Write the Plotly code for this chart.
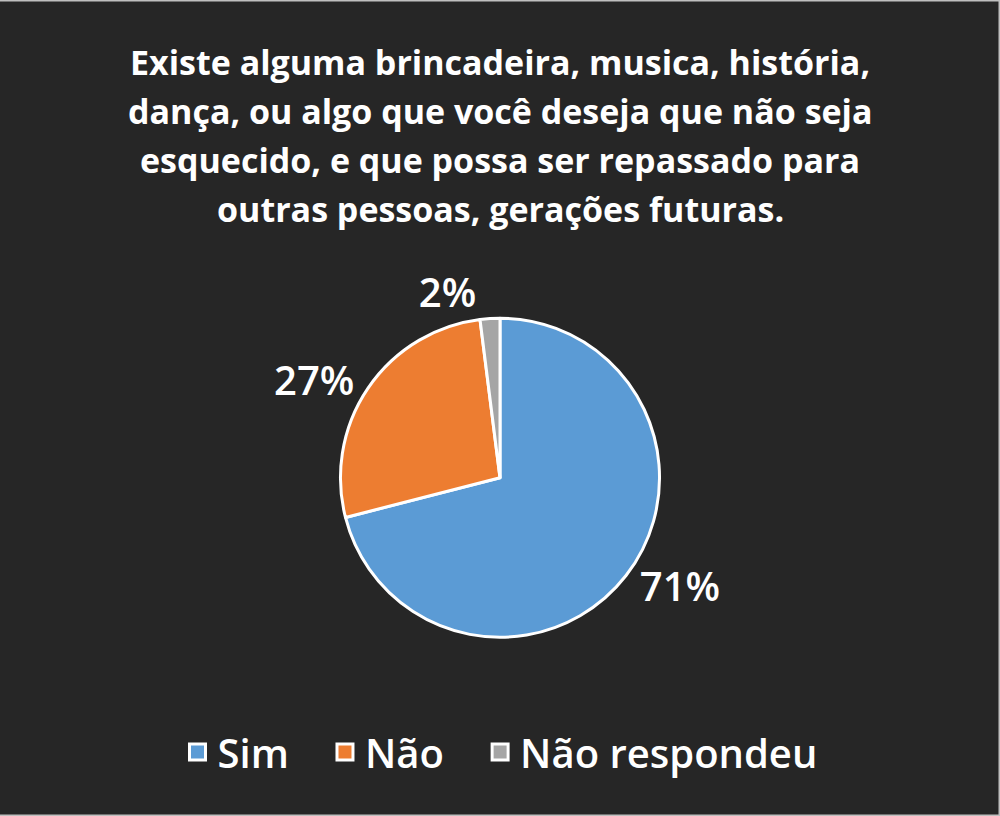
import plotly.graph_objects as go

categories = ["Sim", "Não", "Não respondeu"]
values = [71, 27, 2]
colors = ["#5B9BD5", "#ED7D31", "#A5A5A5"]
title_lines = [
    "Existe alguma brincadeira, musica, história,",
    "dança, ou algo que você deseja que não seja",
    "esquecido, e que possa ser repassado para",
    "outras pessoas, gerações futuras.",
]

W, H = 1000, 816

fig = go.Figure()
fig.add_trace(go.Pie(
    labels=categories,
    values=values,
    marker=dict(colors=colors, line=dict(color="white", width=3)),
    sort=False,
    direction="clockwise",
    rotation=0,
    textinfo="percent",
    texttemplate="%{percent:.0%}",
    textposition="outside",
    textfont=dict(family="Open Sans", size=40, color="white", weight=600),
    domain=dict(x=[0.34, 0.66], y=[0.219, 0.610]),
    showlegend=False,
))

# legend entries (larger square symbols)
n = len(categories)
for i, (cat, col) in enumerate(zip(categories, colors)):
    pad = "\u00a0\u00a0\u00a0" if i < n - 1 else ""
    fig.add_trace(go.Scatter(
        x=[None], y=[None], mode="markers", name=cat + pad,
        marker=dict(symbol="square", size=16, color=col,
                    line=dict(color="white", width=3)),
        showlegend=True, hoverinfo="skip",
    ))

line_centers = [62, 111, 160, 209]
for txt, yc in zip(title_lines, line_centers):
    fig.add_annotation(
        text=txt, x=0.5, xref="paper", y=1 - yc / H, yref="paper",
        xanchor="center", yanchor="middle", showarrow=False,
        font=dict(family="Open Sans", size=34, color="white", weight="bold"),
    )

# light frame edges (top, right, bottom)
frame = dict(color="#BFBFBF", width=3)
fig.add_shape(type="line", xref="paper", yref="paper", x0=0, x1=1, y0=1, y1=1, line=frame)
fig.add_shape(type="line", xref="paper", yref="paper", x0=0, x1=1, y0=0, y1=0, line=frame)
fig.add_shape(type="line", xref="paper", yref="paper", x0=1, x1=1, y0=0, y1=1, line=frame)

fig.update_layout(
    width=W, height=H,
    margin=dict(l=0, r=0, t=0, b=0),
    paper_bgcolor="#262626",
    plot_bgcolor="#262626",
    xaxis=dict(visible=False),
    yaxis=dict(visible=False),
    legend=dict(
        orientation="h",
        x=0.5, xanchor="center",
        y=1 - 752 / H, yanchor="middle",
        font=dict(family="Open Sans", size=40, color="white", weight=600),
        itemsizing="trace",
        traceorder="normal",
        itemwidth=30,
    ),
)

fig.write_html("out.html")
